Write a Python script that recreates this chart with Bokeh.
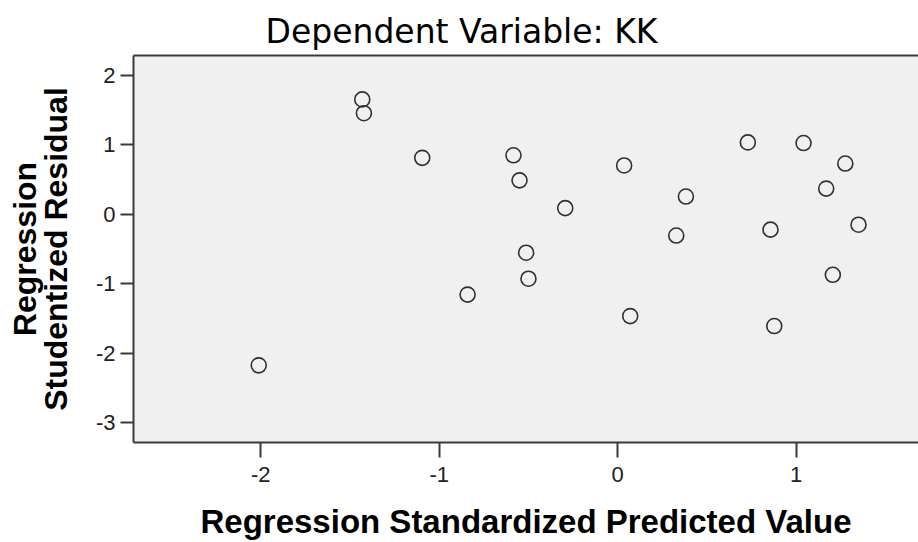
from bokeh.plotting import figure
from bokeh.models import FixedTicker, LinearAxis, Range1d, ColumnDataSource
from bokeh.embed import file_html
from bokeh.resources import INLINE

# Data
predicted = [-1.431, -1.422, -1.095, -0.584, -0.550, -0.294, 0.036, 0.382, 0.328, 0.729, 1.041,
             1.275, 1.168, 0.856, 1.349, -0.513, -0.500, -0.841, 0.070, 0.877, 1.205, -2.011]
residual = [1.651, 1.452, 0.811, 0.848, 0.487, 0.088, 0.701, 0.255, -0.306, 1.033, 1.024,
            0.729, 0.369, -0.221, -0.150, -0.553, -0.927, -1.155, -1.464, -1.607, -0.870, -2.172]
x_ticks = [-2, -1, 0, 1]
x_tick_labels = ["-2", "-1", "0", "1"]
y_ticks = [-3, -2, -1, 0, 1, 2]
y_tick_labels = ["-3", "-2", "-1", "0", "1", "2"]

title_text = "Dependent Variable: KK"
x_label = "Regression Standardized Predicted Value"
y_label = "Regression\nStudentized Residual"

AXIS_COL = "#3a3a3a"

p = figure(width=918, height=542, output_backend="svg", toolbar_location=None,
           x_range=Range1d(-2.7126, 1.685), y_range=Range1d(-3.281, 2.282),
           min_border_left=133, min_border_right=0, min_border_top=55, min_border_bottom=96,
           background_fill_color="#f0f0f0", border_fill_color="white")
p.outline_line_color = None
p.grid.visible = False

p.title.text = title_text
p.title.align = "left"
p.title.offset = 132
p.title.text_font = "DejaVu Sans"
p.title.text_font_size = "33px"
p.title.text_font_style = "normal"
p.title.text_color = "#000000"
p.title.standoff = 10

src = ColumnDataSource(dict(x=predicted, y=residual))
p.scatter("x", "y", source=src, size=15, marker="circle", fill_color=None,
          line_color="#303030", line_width=1.6)

for ax in (p.xaxis[0], p.yaxis[0]):
    ax.axis_line_color = AXIS_COL
    ax.axis_line_width = 2
    ax.major_tick_line_color = AXIS_COL
    ax.major_tick_line_width = 2
    ax.major_tick_in = 0
    ax.minor_tick_line_color = None
    ax.major_label_text_font = "Liberation Sans"
    ax.major_label_text_font_size = "22px"
    ax.major_label_text_color = "#222222"
    ax.axis_label_text_font = "Liberation Sans"
    ax.axis_label_text_font_style = "bold"
    ax.axis_label_text_color = "#000000"

p.xaxis.ticker = FixedTicker(ticks=x_ticks)
p.xaxis.major_label_overrides = {t: s for t, s in zip(x_ticks, x_tick_labels)}
p.xaxis.major_tick_out = 15
p.xaxis.major_label_standoff = 9
p.xaxis.axis_label = x_label
p.xaxis.axis_label_text_font_size = "33px"
p.xaxis.axis_label_standoff = 18

p.yaxis.ticker = FixedTicker(ticks=y_ticks)
p.yaxis.major_label_overrides = {t: s for t, s in zip(y_ticks, y_tick_labels)}
p.yaxis.major_tick_out = 13
p.yaxis.major_label_standoff = 5
p.yaxis.axis_label = y_label
p.yaxis.axis_label_text_font_size = "32px"
p.yaxis.axis_label_standoff = 19
p.yaxis.axis_label_text_line_height = 0.85

top = LinearAxis(ticker=FixedTicker(ticks=[]), axis_line_color=AXIS_COL, axis_line_width=2,
                 major_tick_out=0, major_tick_in=0, minor_tick_out=0, minor_tick_in=0,
                 major_label_standoff=0, major_label_text_font_size="0px")
p.add_layout(top, "above")

open("out.html", "w").write(file_html(p, INLINE))
